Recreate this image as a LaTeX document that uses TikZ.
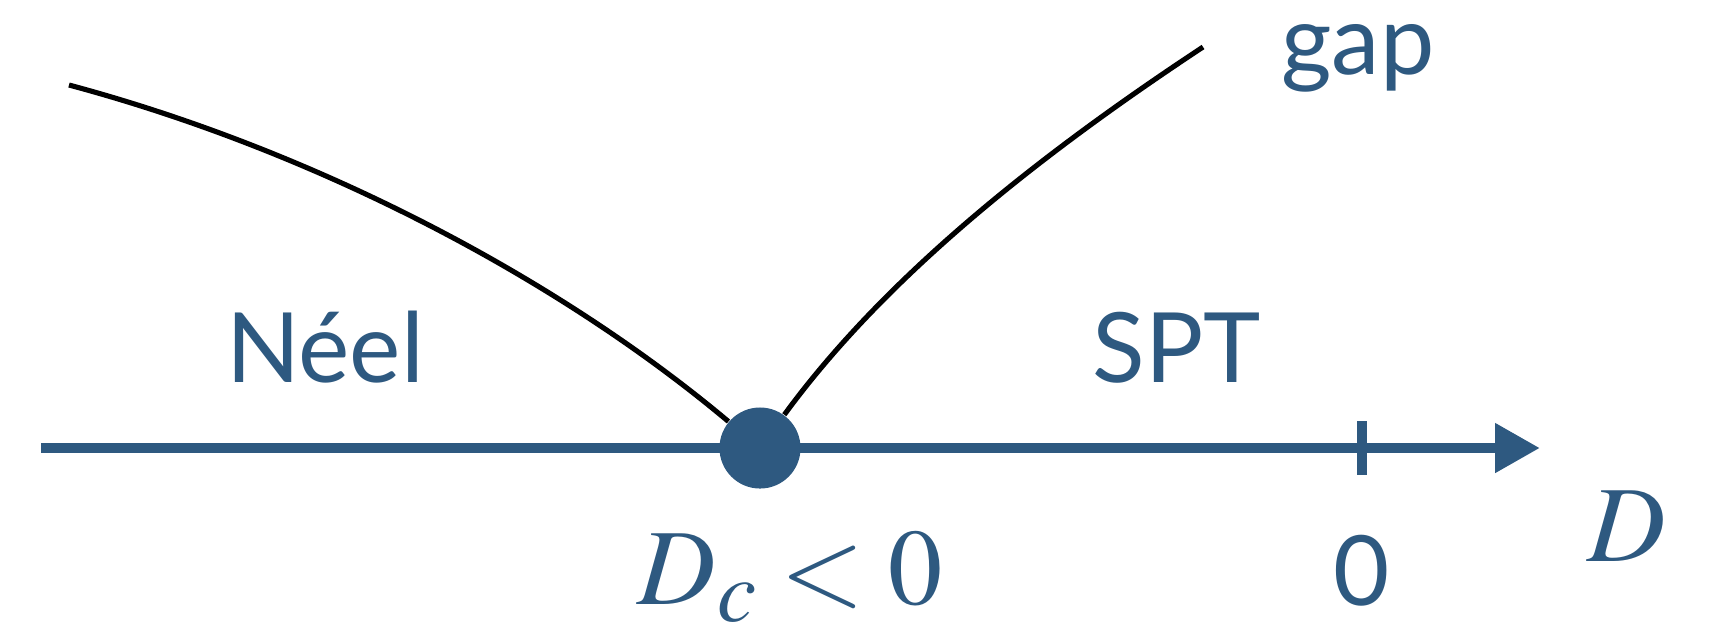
\documentclass[tikz,border=0pt]{standalone}
\usepackage{mathptmx}
\usepackage[no-math]{fontspec}
\setmainfont{Lato}
\usetikzlibrary{arrows.meta}
\definecolor{axblue}{RGB}{46,89,128}
\tikzset{
  lbl/.style={text=axblue, anchor=base, inner sep=0pt, font=\fontsize{27.6}{30}\selectfont},
  mlbl/.style={text=axblue, anchor=base, inner sep=0pt, font=\fontsize{30.8}{34}\selectfont},
  axis/.style={draw=axblue, line width=3.1pt},
  gapline/.style={draw=black, line width=1.45pt},
  critdot/.style={circle, fill=axblue, minimum size=0.81cm, inner sep=0pt}
}
\begin{document}
\begin{tikzpicture}[x=0.01cm, y=-0.01cm]
\useasboundingbox (0,0) rectangle (1716,635);
\coordinate (axL) at (41,448);
\coordinate (axR) at (1540,448);
\coordinate (tickT) at (1362,421);
\coordinate (tickB) at (1362,475);
\coordinate (lEnd) at (69,85);
\coordinate (rEnd) at (1203,47);
\draw[axis, -{Triangle[length=0.45cm, width=0.47cm]}] (axL) -- (axR);
\draw[axis] (tickT) -- (tickB);
\node[critdot] (dc) at (760,448) {};
\draw[gapline] (lEnd) .. controls (319,152) and (560,280) .. (dc);
\draw[gapline] (dc) .. controls (890,270) and (1053,146) .. (rEnd);
\node[lbl] (neel) at (325,382) {Néel};
\node[lbl] (spt) at (1177,382) {SPT};
\node[lbl] (gap) at (1358,74) {gap};
\node[lbl] (zero) at (1362,605) {0};
\node[mlbl] (dclbl) at (790,604) {$D\kern0.5pt\raisebox{-5pt}{\fontsize{25}{25}\selectfont$c$}<0$};
\node[mlbl] (dlbl) at (1627,561) {$D$};
\end{tikzpicture}
\end{document}
